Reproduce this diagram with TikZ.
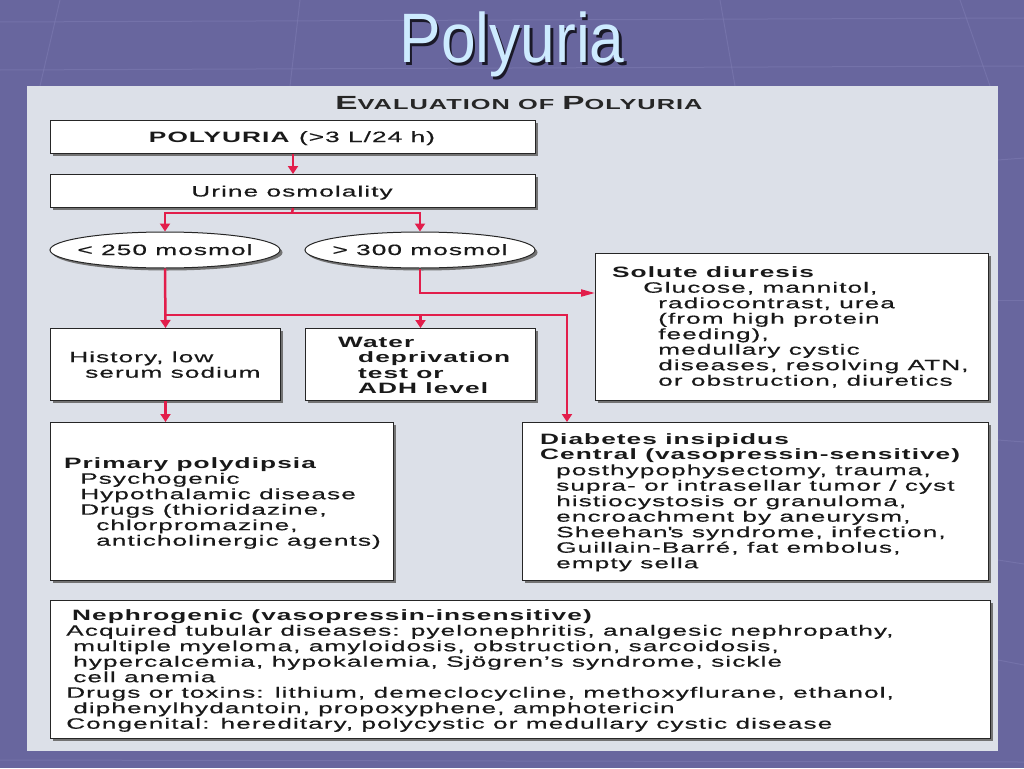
\documentclass[tikz,border=0pt]{standalone}
\usepackage{fontspec}
\setmainfont{Liberation Sans}[FakeStretch=1.75,LetterSpace=7,UprightFeatures={FakeBold=0.4}]
\newfontfamily\titlefont{Liberation Sans}[FakeStretch=0.89]
\usetikzlibrary{arrows.meta,shadows,shapes.geometric}
\definecolor{bg}{RGB}{104,102,158}
\definecolor{bgline}{RGB}{128,126,180}
\definecolor{panel}{RGB}{220,224,232}
\definecolor{conred}{RGB}{226,30,75}
\definecolor{titleblue}{RGB}{205,235,255}
\tikzset{
  box/.style={draw=black!85, line width=1pt, fill=white, anchor=north west, inner sep=0pt,
    drop shadow={shadow xshift=2.5pt, shadow yshift=-2.5pt, fill=black!55, opacity=1}},
  ell/.style={draw=black!85, line width=1pt, fill=white, ellipse, inner sep=0pt,
    minimum width=230pt, minimum height=36pt,
    drop shadow={shadow xshift=2.5pt, shadow yshift=-2.5pt, fill=black!55, opacity=1}},
  txt/.style={anchor=north west, inner sep=0pt, align=left, text=black!90, font=\fontsize{15}{15.5}\selectfont},
  ctxt/.style={anchor=base, inner sep=0pt, text=black!90, font=\fontsize{15}{15.5}\selectfont},
  con/.style={draw=conred, line width=2.5pt},
  arr/.style={con, -{Triangle[width=10pt,length=8pt]}},
  thinarr/.style={draw=conred, line width=2pt, -{Triangle[width=7pt,length=14pt]}},
  deco/.style={draw=bgline, line width=1pt, opacity=0.5}
}
\newcommand{\fl}{\rule{0pt}{11pt}}
\begin{document}
\begin{tikzpicture}[x=1pt,y=-1pt]
\fill[bg] (0,0) rectangle (1024,768);
\useasboundingbox (0,0) rectangle (1024,768);
% faint background grid
\draw[deco] (0,22) -- (1024,18);
\draw[deco] (0,70) -- (1024,66);
\draw[deco] (60,0) -- (40,86);
\draw[deco] (300,0) -- (290,86);
\draw[deco] (720,0) -- (735,86);
\draw[deco] (960,0) -- (990,86);
\draw[deco] (998,160) -- (1024,158);
\draw[deco] (998,300) -- (1024,300);
\draw[deco] (998,440) -- (1024,442);
\draw[deco] (998,560) -- (1024,564);
\draw[deco] (998,660) -- (1024,665);
\draw[deco] (0,760) -- (1024,762);
% title (with its shadow in the same node)
\node[anchor=base, inner sep=0pt, font=\titlefont\fontsize{70}{70}\selectfont, text=titleblue] (title) at (512,63)
  {\rlap{\hspace*{2.5pt}\raisebox{-2.5pt}{\textcolor{black!75!bg}{Polyuria}}}Polyuria};
% panel
\node[fill=panel, anchor=north west, inner sep=0pt, minimum width=971pt, minimum height=665pt] (panel) at (27,86) {};
\node[anchor=base, inner sep=0pt, font=\bfseries, text=black!85] (heading) at (519,109)
  {{\fontsize{19}{19}\selectfont E}{\fontsize{14.5}{19}\selectfont VALUATION OF }{\fontsize{19}{19}\selectfont P}{\fontsize{14.5}{19}\selectfont OLYURIA}};
% boxes
\node[box, minimum width=485pt, minimum height=33pt] (b1) at (50,120) {};
\node[box, minimum width=485pt, minimum height=33pt] (b2) at (50,174) {};
\node[ell] (e1) at (165,250) {};
\node[ell] (e2) at (420,250) {};
\node[box, minimum width=230pt, minimum height=72pt] (hist) at (50,328) {};
\node[box, minimum width=230pt, minimum height=72pt] (water) at (305,328) {};
\node[box, minimum width=393pt, minimum height=147pt] (sol) at (595,253) {};
\node[box, minimum width=343pt, minimum height=158pt] (prim) at (50,422) {};
\node[box, minimum width=466pt, minimum height=158pt] (dia) at (522,422) {};
\node[box, minimum width=940pt, minimum height=138pt] (neph) at (50,600) {};
% texts
\node[ctxt] (t1) at (292,142) {\textbf{POLYURIA} (>3 L/24 h)};
\node[ctxt] (t2) at (292,196.5) {Urine osmolality};
\node[ctxt] (te1) at (165,255) {< 250 mosmol};
\node[ctxt] (te2) at (420,255) {> 300 mosmol};
\node[txt] (thist) at (69,351) {\fl History, low\\\hspace*{16pt}serum sodium};
\node[txt, font=\fontsize{15}{15.5}\selectfont\bfseries] (twater) at (338,336)
  {\fl Water\\\hspace*{20pt}deprivation\\\hspace*{20pt}test or\\\hspace*{20pt}ADH level};
\node[txt] (tsol) at (612,266) {\fl\textbf{Solute diuresis}\\
\hspace*{31pt}Glucose, mannitol,\\
\hspace*{46pt}radiocontrast, urea\\
\hspace*{46pt}(from high protein\\
\hspace*{46pt}feeding),\\
\hspace*{46pt}medullary cystic\\
\hspace*{46pt}diseases, resolving ATN,\\
\hspace*{46pt}or obstruction, diuretics};
\node[txt] (tprim) at (64,457) {\fl\textbf{Primary polydipsia}\\
\hspace*{16pt}Psychogenic\\
\hspace*{16pt}Hypothalamic disease\\
\hspace*{16pt}Drugs (thioridazine,\\
\hspace*{32pt}chlorpromazine,\\
\hspace*{32pt}anticholinergic agents)};
\node[txt] (tdia) at (540,433) {\fl\textbf{Diabetes insipidus}\\
\textbf{Central (vasopressin-sensitive)}\\
\hspace*{16pt}posthypophysectomy, trauma,\\
\hspace*{16pt}supra- or intrasellar tumor / cyst\\
\hspace*{16pt}histiocystosis or granuloma,\\
\hspace*{16pt}encroachment by aneurysm,\\
\hspace*{16pt}Sheehan\textquotesingle s syndrome, infection,\\
\hspace*{16pt}Guillain-Barré, fat embolus,\\
\hspace*{16pt}empty sella};
\node[txt] (tneph) at (66,609) {\fl\hspace*{6pt}\textbf{Nephrogenic (vasopressin-insensitive)}\\
Acquired tubular diseases: pyelonephritis, analgesic nephropathy,\\
\hspace*{7pt}multiple myeloma, amyloidosis, obstruction, sarcoidosis,\\
\hspace*{7pt}hypercalcemia, hypokalemia, Sjögren’s syndrome, sickle\\
\hspace*{7pt}cell anemia\\
Drugs or toxins: lithium, demeclocycline, methoxyflurane, ethanol,\\
\hspace*{7pt}diphenylhydantoin, propoxyphene, amphotericin\\
Congenital: hereditary, polycystic or medullary cystic disease};
% connectors
\coordinate (j1) at (292,213);
\coordinate (j2) at (165,315);
\coordinate (j3) at (567,315);
\coordinate (solin) at (595,293);
\draw[arr] (b1.south) -- (b2.north);
\draw[con] (b2.south) -- (j1);
\draw[arr] (j1) -| (e1.north);
\draw[arr] (j1) -| (e2.north);
\draw[arr] (e1.south) -- (hist.north);
\draw[arr] (j2) -| (water.north);
\draw[arr] (j2) -- (j3) -- (j3 |- dia.north);
\draw[thinarr] (e2.south) |- (solin);
\draw[arr] (hist.south) -- (hist.south |- prim.north);
\end{tikzpicture}
\end{document}
